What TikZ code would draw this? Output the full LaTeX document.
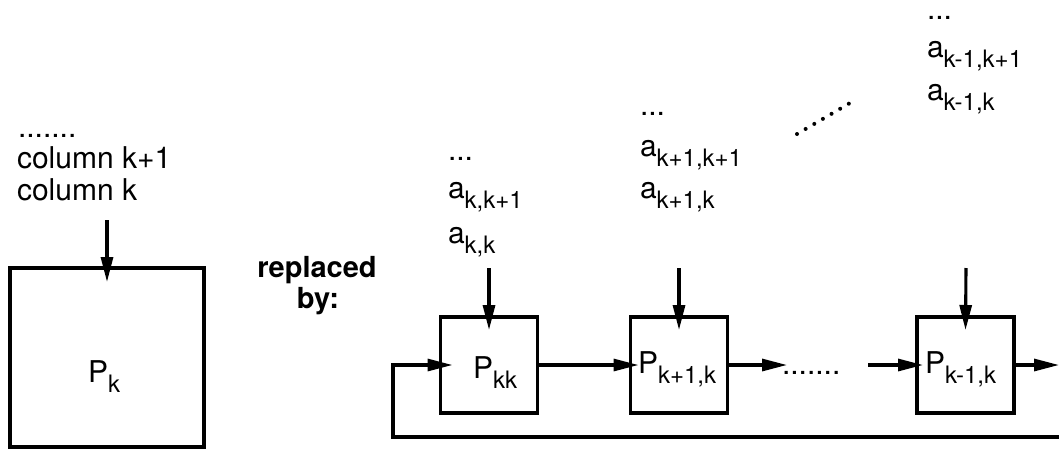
\documentclass[tikz,border=0pt]{standalone}
\usepackage{fontspec}
\setmainfont{TeX Gyre Heros}
\usetikzlibrary{arrows.meta,calc}
\newcommand\lsub[1]{\raisebox{-10pt}{\fontsize{24}{24}\selectfont #1}}
\begin{document}
\begin{tikzpicture}[x=1pt,y=-1pt,
  every node/.style={inner sep=0pt, outer sep=0pt, font=\fontsize{30}{36}\selectfont},
  line width=3.1pt,
  arr/.style={-{Triangle[length=25pt,width=12pt]}},
  box/.style={draw, line width=3.1pt, minimum width=97pt, minimum height=96pt},
  bigbox/.style={draw, line width=3.1pt, minimum width=194pt, minimum height=179pt},
  txt/.style={anchor=base west},
  dots/.style={anchor=base west, text height=4pt},
  bold/.style={anchor=base, font=\fontsize{29}{34}\selectfont\bfseries},
  dotline/.style={line width=4pt, line cap=round, dash pattern=on 0pt off 10pt}]
\useasboundingbox (0,0) rectangle (1059,458);

% left part
\node[bigbox] (pk) at (107,357.5) {};
\node[txt] (lpk) at (88,382) {P\lsub{k}};
\node[dots] (ldots) at (18,137) {.......};
\node[txt] (lc1) at (17,168) {column k+1};
\node[txt] (lc0) at (17,200) {column k};
\coordinate (ink) at (107,220);
\draw[arr] (ink) -- ($(pk.north)+(0,14)$);

% replaced by
\node[bold] (rep) at (317,277) {replaced};
\node[bold] (by) at (318,308) {by:};

% boxes
\node[box] (pkk) at (489,365) {};
\node[box] (pk1) at (679,365) {};
\node[box] (pkm) at (965.5,365) {};
\node[txt] (lpkk) at (473,378) {P\lsub{kk}};
\node[txt] (lpk1) at (638,373) {P\lsub{k+1,k}};
\node[txt] (lpkm) at (925,373) {P\lsub{k-1,k}};

% input columns
\node[dots] (d1) at (448,160) {...};
\node[txt] (a1b) at (448,198) {a\lsub{k,k+1}};
\node[txt] (a1a) at (448,243) {a\lsub{k,k}};
\node[dots] (d2) at (640,115) {...};
\node[txt] (a2b) at (640,156) {a\lsub{k+1,k+1}};
\node[txt] (a2a) at (640,198) {a\lsub{k+1,k}};
\node[dots] (d3) at (927,19) {...};
\node[txt] (a3b) at (927,57) {a\lsub{k-1,k+1}};
\node[txt] (a3a) at (927,100) {a\lsub{k-1,k}};
\coordinate (dg1) at (797,134);
\coordinate (dg2) at (850,103);
\draw[dotline] (dg1) -- (dg2);

\coordinate (in1) at (489,268);
\coordinate (in2) at (679,268);
\coordinate (in3) at (966,268);
\draw[arr] (in1) -- ($(pkk.north)+(0,13)$);
\draw[arr] (in2) -- ($(pk1.north)+(0,13)$);
\draw[arr] (in3) -- ($(pkm.north)+(0,13)$);

% horizontal chain
\coordinate (c1) at (787,365);
\coordinate (c2) at (868,365);
\coordinate (outR) at (1059,365);
\coordinate (bR) at (1059,437);
\coordinate (bL) at (393,437);
\coordinate (tL) at (393,365);
\node[dots] (hdots) at (782,374) {.......};
\draw[arr] (pkk.east) -- ($(pk1.west)+(8,0)$);
\draw[arr] (pk1.east) -- (c1);
\draw[arr] (c2) -- ($(pkm.west)+(6,0)$);
\draw[arr] (pkm.east) -- (outR);
\draw[arr] (bR) -- (bL) -- (tL) -- ($(pkk.west)+(12,0)$);
\end{tikzpicture}
\end{document}
